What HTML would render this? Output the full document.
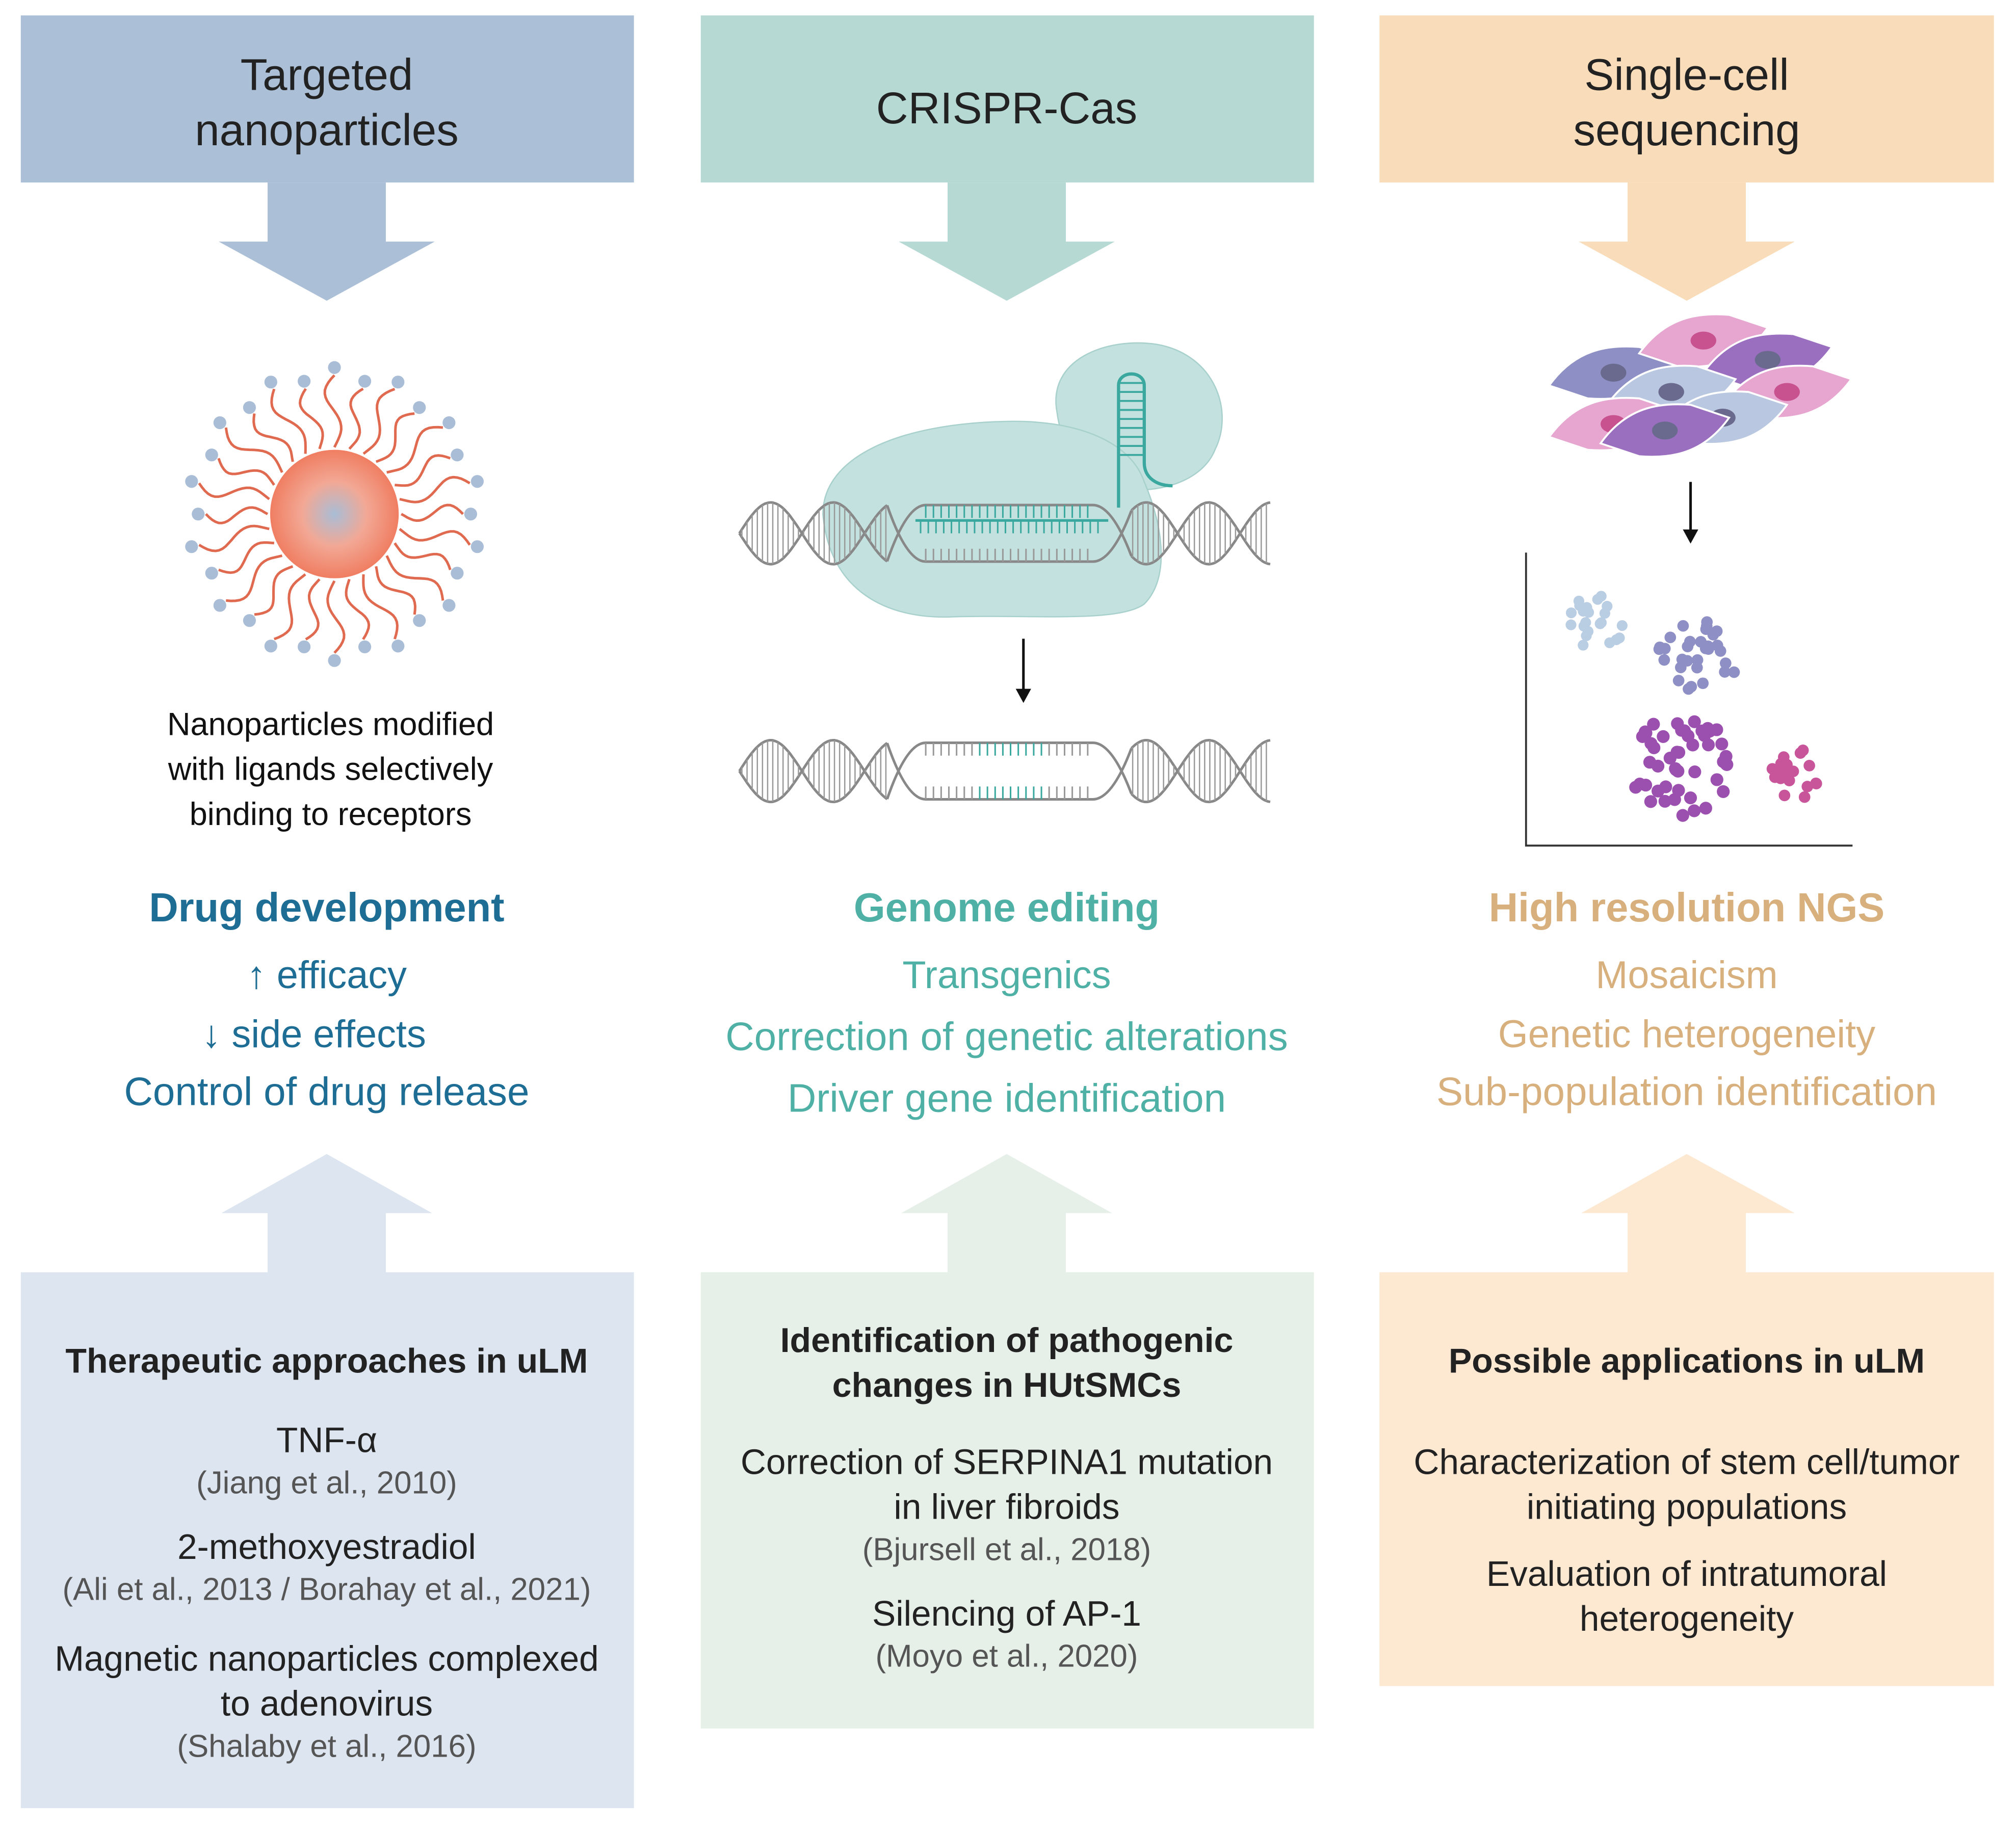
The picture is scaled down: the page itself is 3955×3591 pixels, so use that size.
<!DOCTYPE html>
<html><head><meta charset="utf-8">
<style>
html,body{margin:0;padding:0;background:#fff;}
svg{display:block;}
text{font-family:"Liberation Sans",Arial,sans-serif;}
</style></head>
<body>
<svg id="s" width="3955" height="3591" viewBox="0 0 1568 1424" xmlns="http://www.w3.org/2000/svg">
<defs>
<radialGradient id="core" cx="50%" cy="50%" r="50%">
<stop offset="0" stop-color="#a9bdd6"/><stop offset="0.5" stop-color="#f2a895"/><stop offset="1" stop-color="#f07e62"/>
</radialGradient>
</defs>
<rect width="1568" height="1424" fill="#fff"/>
<rect x="16" y="12" width="477" height="130" fill="#abbfd7"/>
<rect x="545" y="12" width="477" height="130" fill="#b6d9d4"/>
<rect x="1073" y="12" width="478" height="130" fill="#f9dcb9"/>
<polygon points="208,142 300,142 300,188 338,188 254,234 170,188 208,188" fill="#abbfd7"/>
<polygon points="737,142 829,142 829,188 867,188 783,234 699,188 737,188" fill="#b6d9d4"/>
<polygon points="1266,142 1358,142 1358,188 1396,188 1312,234 1228,188 1266,188" fill="#f9dcb9"/>
<rect x="16" y="990" width="477" height="417" fill="#dde5f0"/>
<rect x="545" y="990" width="477" height="355" fill="#e6efe8"/>
<rect x="1073" y="990" width="478" height="322" fill="#fde8d1"/>
<polygon points="208,990 300,990 300,944 336,944 254,898 172,944 208,944" fill="#dde5f0"/>
<polygon points="737,990 829,990 829,944 865,944 783,898 701,944 737,944" fill="#e6efe8"/>
<polygon points="1266,990 1358,990 1358,944 1396,944 1312,898 1230,944 1266,944" fill="#fde8d1"/>
<g font-size="34.5" fill="#222" text-anchor="middle">
<text x="254" y="70">Targeted</text><text x="254" y="113">nanoparticles</text>
<text x="783" y="96">CRISPR-Cas</text>
<text x="1312" y="70">Single-cell</text><text x="1312" y="113">sequencing</text>
</g>
<g id="np"></g>
<circle cx="260" cy="400" r="50" fill="url(#core)"/>
<g font-size="25" fill="#111" text-anchor="middle">
<text x="257" y="572">Nanoparticles modified</text>
<text x="257" y="607">with ligands selectively</text>
<text x="257" y="642">binding to receptors</text>
</g>
<path d="M822,320 C815,280 860,262 900,268 C945,276 960,320 945,350 C935,375 900,385 870,380 C840,372 826,350 822,320Z" fill="#c3e2df" stroke="#a8d0cc" stroke-width="1"/>
<path d="M640,400 C640,355 700,330 780,328 C840,326 880,345 890,375 C905,410 910,450 890,470 C870,485 800,478 740,480 C690,482 645,460 640,400Z" fill="#c3e2df" stroke="#a8d0cc" stroke-width="1"/>
<g id="dna"></g>
<path d="M870,395 L870,300 C870,288 890,288 890,300 L890,360 C890,372 900,378 912,378" fill="none" stroke="#3aa89e" stroke-width="2.5"/>
<g id="hp"></g>
<line x1="796" y1="497" x2="796" y2="540" stroke="#111" stroke-width="2"/>
<polygon points="790,536 802,536 796,547" fill="#111"/>
<g id="cells"></g>
<line x1="1315" y1="375" x2="1315" y2="415" stroke="#111" stroke-width="2"/>
<polygon points="1309,412 1321,412 1315,423" fill="#111"/>
<path d="M1187,430 L1187,658 L1441,658" fill="none" stroke="#333" stroke-width="1.5"/>
<g id="scatter"></g>
<g text-anchor="middle">
<text x="254" y="717" font-size="31.5" font-weight="bold" fill="#1e6d94">Drug development</text>
<text x="254" y="769" font-size="30" fill="#1e6d94">↑ efficacy</text>
<text x="244" y="815" font-size="30" fill="#1e6d94">↓ side effects</text>
<text x="254" y="860" font-size="31" fill="#1e6d94">Control of drug release</text>
<text x="783" y="717" font-size="31.5" font-weight="bold" fill="#4fb0a6">Genome editing</text>
<text x="783" y="769" font-size="30" fill="#4fb0a6">Transgenics</text>
<text x="783" y="817" font-size="31" fill="#4fb0a6">Correction of genetic alterations</text>
<text x="783" y="865" font-size="31" fill="#4fb0a6">Driver gene identification</text>
<text x="1312" y="717" font-size="31.5" font-weight="bold" fill="#d8b07d">High resolution NGS</text>
<text x="1312" y="769" font-size="30" fill="#d8b07d">Mosaicism</text>
<text x="1312" y="815" font-size="30" fill="#d8b07d">Genetic heterogeneity</text>
<text x="1312" y="860" font-size="31" fill="#d8b07d">Sub-population identification</text>
</g>
<g text-anchor="middle" fill="#222">
<text x="254" y="1068" font-size="27" font-weight="bold">Therapeutic approaches in uLM</text>
<text x="254" y="1130" font-size="27.5">TNF-α</text>
<text x="254" y="1162" font-size="24.5" fill="#555">(Jiang et al., 2010)</text>
<text x="254" y="1213" font-size="27.5">2-methoxyestradiol</text>
<text x="254" y="1245" font-size="24.5" fill="#555">(Ali et al., 2013 / Borahay et al., 2021)</text>
<text x="254" y="1300" font-size="27.5">Magnetic nanoparticles complexed</text>
<text x="254" y="1335" font-size="27.5">to adenovirus</text>
<text x="254" y="1367" font-size="24.5" fill="#555">(Shalaby et al., 2016)</text>
<text x="783" y="1052" font-size="27" font-weight="bold">Identification of pathogenic</text>
<text x="783" y="1087" font-size="27" font-weight="bold">changes in HUtSMCs</text>
<text x="783" y="1147" font-size="27.5">Correction of SERPINA1 mutation</text>
<text x="783" y="1182" font-size="27.5">in liver fibroids</text>
<text x="783" y="1214" font-size="24.5" fill="#555">(Bjursell et al., 2018)</text>
<text x="783" y="1265" font-size="27.5">Silencing of AP-1</text>
<text x="783" y="1297" font-size="24.5" fill="#555">(Moyo et al., 2020)</text>
<text x="1312" y="1068" font-size="27" font-weight="bold">Possible applications in uLM</text>
<text x="1312" y="1147" font-size="27.5">Characterization of stem cell/tumor</text>
<text x="1312" y="1182" font-size="27.5">initiating populations</text>
<text x="1312" y="1234" font-size="27.5">Evaluation of intratumoral</text>
<text x="1312" y="1269" font-size="27.5">heterogeneity</text>
</g>
</svg>
<script>
var NS="http://www.w3.org/2000/svg";
function el(p,t,a){var e=document.createElementNS(NS,t);for(var k in a)e.setAttribute(k,a[k]);document.getElementById(p).appendChild(e);return e;}
var cx=260,cy=400,N=28;
for(var i=0;i<N;i++){var a=i*2*Math.PI/N;var d="";var r1=52,r2=100+(i%2?8:0);
for(var s=0;s<=20;s++){var r=r1+(r2-r1)*s/20;var off=0.08*Math.sin(s/20*Math.PI*2);var x=cx+r*Math.cos(a+off),y=cy+r*Math.sin(a+off);d+=(s?"L":"M")+x.toFixed(1)+","+y.toFixed(1);}
el("np","path",{d:d,fill:"none",stroke:"#e06a50","stroke-width":2});
el("np","circle",{cx:cx+(r2+6)*Math.cos(a),cy:cy+(r2+6)*Math.sin(a),r:5,fill:"#a9bdd6"});}
var K=15.5;
function helix(yc,openL,openR,teal){
var A=24;
function Y(x,ph){return yc+A*Math.sin((x-575)/K+ph);}
function strand(ph,x0,x1){var d="";for(var x=x0;x<=x1;x+=1){d+=(x==x0?"M":"L")+x+","+Y(x,ph).toFixed(1);}return d;}
el("dna","path",{d:strand(0,575,openL),fill:"none",stroke:"#888","stroke-width":2});
el("dna","path",{d:strand(Math.PI,575,openL),fill:"none",stroke:"#888","stroke-width":2});
el("dna","path",{d:strand(0,openR,988),fill:"none",stroke:"#888","stroke-width":2});
el("dna","path",{d:strand(Math.PI,openR,988),fill:"none",stroke:"#888","stroke-width":2});
for(var x=577;x<=988;x+=4){if(x>openL&&x<openR)continue;el("dna","line",{x1:x,y1:Y(x,0),x2:x,y2:Y(x,Math.PI),stroke:"#999","stroke-width":1});}
el("dna","path",{d:"M"+openL+","+Y(openL,0)+" Q"+(openL+15)+","+(yc-22)+" "+(openL+30)+","+(yc-22)+" L"+(openR-30)+","+(yc-22)+" Q"+(openR-15)+","+(yc-22)+" "+openR+","+Y(openR,0),fill:"none",stroke:"#888","stroke-width":2});
el("dna","path",{d:"M"+openL+","+Y(openL,Math.PI)+" Q"+(openL+15)+","+(yc+22)+" "+(openL+30)+","+(yc+22)+" L"+(openR-30)+","+(yc+22)+" Q"+(openR-15)+","+(yc+22)+" "+openR+","+Y(openR,Math.PI),fill:"none",stroke:"#888","stroke-width":2});
for(var x=openL+30;x<=openR-30;x+=6){var c=(x>=teal[0]&&x<=teal[1])?"#3aa89e":"#999";
el("dna","line",{x1:x,y1:yc-22,x2:x,y2:yc-12,stroke:c,"stroke-width":1.2});
el("dna","line",{x1:x,y1:yc+12,x2:x,y2:yc+22,stroke:teal[2]&&c!="#999"?c:"#999","stroke-width":1.2});}
}
helix(415,690,880,[710,860,false]);
el("dna","path",{d:"M712,405 L862,405",stroke:"#3aa89e","stroke-width":2,fill:"none"});
for(var x=716;x<=858;x+=6)el("dna","line",{x1:x,y1:405,x2:x,y2:415,stroke:"#3aa89e","stroke-width":1.2});
helix(600,690,880,[760,815,true]);
for(var y=298;y<=360;y+=7)el("hp","line",{x1:870,y1:y,x2:890,y2:y,stroke:"#3aa89e","stroke-width":1.5});
var cells=[[1255,290,"#8e8fc4"],[1325,265,"#e7a6cf"],[1375,280,"#9b6fbf"],[1300,305,"#b9c8e0"],[1390,305,"#e7a6cf"],[1255,330,"#e7a6cf"],[1340,325,"#b9c8e0"],[1295,335,"#9b6fbf"]];
cells.forEach(function(c){var x=c[0],y=c[1];
el("cells","path",{d:"M"+(x-50)+","+(y+10)+" C"+(x-30)+","+(y-18)+" "+(x-5)+","+(y-22)+" "+(x+20)+","+(y-20)+" L"+(x+50)+","+(y-10)+" C"+(x+30)+","+(y+18)+" "+(x+5)+","+(y+22)+" "+(x-20)+","+(y+20)+"Z",fill:c[2],stroke:"#fff","stroke-width":1.5});
el("cells","ellipse",{cx:x,cy:y,rx:10,ry:7,fill:c[2]=="#e7a6cf"?"#c8528f":"#6a6a8e"});});
function cl(x,y,r,n,col,dr){var seed=x*7+y;for(var i=0;i<n;i++){seed=(seed*9301+49297)%233280;var a=seed/233280*6.283;seed=(seed*9301+49297)%233280;var rr=Math.sqrt(seed/233280)*r;el("scatter","circle",{cx:x+rr*Math.cos(a),cy:y+rr*Math.sin(a),r:dr,fill:col});}}
cl(1242,483,24,22,"#b9cde3",4.2);
cl(1320,512,32,32,"#8e8fc4",4.5);
cl(1308,595,40,48,"#9b4fae",5);
cl(1398,602,22,18,"#c8559a",4.5);
</script>
</body></html>
